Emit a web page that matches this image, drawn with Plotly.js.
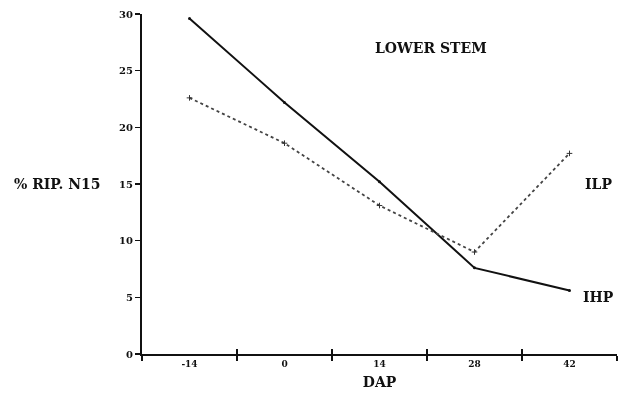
<!DOCTYPE html>
<html><head><meta charset="utf-8">
<script src="https://cdn.plot.ly/plotly-3.0.1.min.js"></script>
<style>body{margin:0;background:#fff}#c{width:623px;height:396px}</style>
</head><body><div id="c"></div>
<script>
const dap = ["-14", "0", "14", "28", "42"];
const ihp = [29.6, 22.2, 15.2, 7.6, 5.6];
const ilp = [22.6, 18.6, 13.1, 9.0, 17.7];
const yTicks = [0, 5, 10, 15, 20, 25, 30];

const F = "DejaVu Serif";
const traces = [
  {x: dap, y: ihp, type: 'scatter', mode: 'lines+markers', name: 'IHP',
   line: {color: '#111', width: 2}, marker: {color: '#111', size: 3}},
  {x: dap, y: ilp, type: 'scatter', mode: 'lines+markers', name: 'ILP',
   line: {color: '#444', width: 1.8, dash: 'dot'}, marker: {color: '#333', size: 4, symbol: 'cross-thin', line: {color: '#333', width: 1}}},
  {x: dap, y: ihp, xaxis: 'x2', type: 'scatter', mode: 'markers', opacity: 0, hoverinfo: 'skip', marker: {size: 1}}
];
const axCommon = {type: 'category', categoryorder: 'array', categoryarray: dap,
    range: [-0.5, 4.5], tickson: 'boundaries', tickwidth: 1.5, tickcolor: '#111',
    showgrid: false, zeroline: false};
const layout = {
  width: 623, height: 396, showlegend: false,
  paper_bgcolor: '#fff', plot_bgcolor: '#fff',
  margin: {l: 142, r: 6, t: 14, b: 42},
  font: {family: F, color: '#111'},
  xaxis: Object.assign({}, axCommon, {ticks: 'outside', ticklen: 5,
    showline: true, linecolor: '#111', linewidth: 2,
    tickfont: {family: F, size: 9, color: '#111', weight: 'bold'},
    title: {text: '<b>DAP</b>', font: {family: F, size: 14, color: '#111'}, standoff: 9}}),
  xaxis2: Object.assign({}, axCommon, {overlaying: 'x', anchor: 'y', side: 'bottom', ticks: 'inside', ticklen: 5,
    showline: false, showticklabels: false}),
  yaxis: {range: [0, 30], tickvals: yTicks, ticks: 'outside', ticklen: 5, tickwidth: 1.5, tickcolor: '#111',
    showline: true, linecolor: '#111', linewidth: 2, showgrid: false, zeroline: false,
    tickfont: {family: F, size: 10, color: '#111', weight: 'bold'}},
  annotations: [
    {text: '<b>LOWER STEM</b>', xref: 'paper', yref: 'paper', x: 0.608, y: 0.9, xanchor: 'center', yanchor: 'middle', showarrow: false, font: {family: F, size: 14, color: '#111'}},
    {text: '<b>% RIP. N15</b>', xref: 'paper', yref: 'paper', x: -0.274, y: 0.5, xanchor: 'left', yanchor: 'middle', showarrow: false, font: {family: F, size: 14, color: '#111'}},
    {text: '<b>ILP</b>', xref: 'paper', yref: 'paper', x: 0.96, y: 0.5, xanchor: 'center', yanchor: 'middle', showarrow: false, font: {family: F, size: 14, color: '#111'}},
    {text: '<b>IHP</b>', xref: 'paper', yref: 'paper', x: 0.96, y: 0.167, xanchor: 'center', yanchor: 'middle', showarrow: false, font: {family: F, size: 14, color: '#111'}}
  ]
};
Plotly.newPlot('c', traces, layout, {displayModeBar: false, staticPlot: true});
</script></body></html>
